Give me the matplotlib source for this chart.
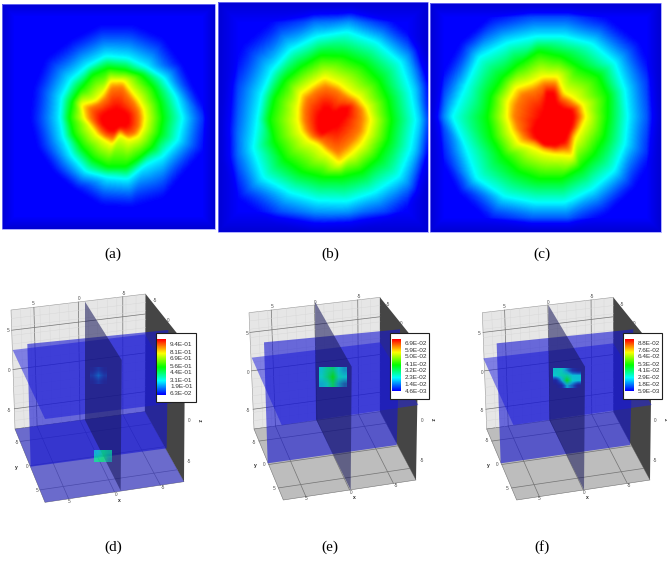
import numpy as np
import matplotlib
matplotlib.use("Agg")
import matplotlib.pyplot as plt
import matplotlib.tri as mtri
from matplotlib.colors import LinearSegmentedColormap, Normalize
from matplotlib.patches import Polygon, Rectangle

W, H = 667, 567
# --- colour scale: level -> colour
cmap = LinearSegmentedColormap.from_list("rb", [(0, (0, 0, .70)), (.2, (0, 0, 1)), (.4, (0, 1, 1)),
                                                (.6, (0, 1, 0)), (.8, (1, 1, 0)), (1, (1, 0, 0))])
norm = Normalize(-.25, 1)
ring_levels = [0, .25, .5, .75, .875, 1]

# --- top row: radius (px) of each level contour, every 20 degrees counter-clockwise from east
a_blue   = [94, 84, 86, 94, 96, 96, 92, 94, 90, 88, 86, 84, 84, 90, 92, 94, 88, 94]
a_cyan   = [66, 63, 62, 59, 61, 63, 60, 60, 59, 57, 57, 59, 62, 60, 62, 55, 60, 65]
a_green  = [46, 46, 48, 50, 49, 51, 50, 47, 48, 48, 47, 46, 48, 50, 50, 46, 46, 46]
a_yellow = [28, 28, 28, 30, 38, 38, 28, 27, 38, 33, 27, 26, 25, 27, 16, 25, 28, 28]
a_orange = [23, 23, 23, 25, 32, 31, 23, 23, 30, 27, 23, 22, 22, 22, 13, 21, 24, 24]
a_red    = [12, 12, 10, 9, 9, 9, 9, 11, 13, 16, 16, 15, 15, 13, 10, 10, 13, 13]

b_blue   = [112, 116, 120, 118, 118, 116, 118, 118, 114, 112, 118, 124, 120, 116, 114, 118, 120, 114]
b_cyan   = [84, 84, 90, 90, 90, 85, 82, 78, 75, 75, 84, 90, 84, 82, 83, 84, 88, 84]
b_green  = [60, 60, 62, 64, 65, 66, 62, 62, 62, 63, 62, 62, 60, 58, 58, 60, 60, 60]
b_yellow = [39, 37, 35, 33, 37, 43, 40, 41, 36, 34, 33, 31, 28, 33, 44, 39, 38, 38]
b_orange = [30, 31, 29, 27, 30, 34, 33, 33, 30, 28, 27, 26, 24, 27, 34, 30, 29, 30]
b_red    = [10, 16, 21, 14, 7, 12, 15, 13, 14, 14, 15, 17, 17, 10, 7, 8, 8, 8]

c_blue   = [112, 114, 118, 116, 114, 114, 118, 118, 118, 120, 118, 120, 122, 116, 116, 114, 112, 112]
c_cyan   = [78, 80, 85, 85, 82, 82, 86, 93, 90, 98, 90, 96, 92, 87, 87, 84, 84, 80]
c_green  = [58, 62, 64, 58, 62, 67, 62, 62, 63, 63, 62, 62, 63, 63, 63, 60, 58, 58]
c_yellow = [36, 35, 30, 28, 41, 41, 39, 45, 45, 43, 41, 41, 35, 36, 38, 45, 33, 33]
c_orange = [31, 30, 25, 23, 34, 34, 31, 36, 36, 36, 34, 33, 29, 31, 34, 37, 29, 29]
c_red    = [24, 23, 15, 15, 25, 25, 12, 8, 8, 8, 14, 22, 26, 30, 30, 29, 25, 24]

top_panels = [
    ((117, 118), (2, 215, 4, 229), 12, [a_blue, a_cyan, a_green, a_yellow, a_orange, a_red]),
    ((332, 120), (218, 428, 2, 232), 20, [b_blue, b_cyan, b_green, b_yellow, b_orange, b_red]),
    ((550, 117), (430, 661, 3, 232), 14, [c_blue, c_cyan, c_green, c_yellow, c_orange, c_red]),
]

# --- bottom row: scene corners, relative to each panel's origin (3x px)
scenes = [
 dict(origin=(0, 280), TL=(33, 90), TR=(437, 42), BR=(435, 395), BL=(45, 447), FR=(552, 605), FL=(135, 667), RT=(555, 190),
      hp=[(38, 210), (435, 163), (552, 365), (135, 417)], yp=[(82, 192), (505, 150), (500, 505), (92, 560)],
      xp=[(255, 65), (365, 240), (362, 632), (255, 420)], floor_blue=True,
      legend=((467, 160, 587, 367), (472, 178, 498, 345), 510, [195, 216, 237, 258, 279, 300, 320, 340]),
      labels=["9.4E-01", "8.1E-01", "6.9E-01", "5.6E-01", "4.4E-01", "3.1E-01", "1.9E-01", "6.3E-02"],
      heat=[((283, 335, 510, 545), [[.28, .36, .34], [.36, .40, .30]], [[.6, .7, .6], [.7, .7, .4]]),
            ((270, 320, 262, 312), [[.10, .13, .10], [.13, .17, .13], [.10, .13, .10]], [[.05, .2, .05], [.2, .45, .2], [.05, .2, .05]])],
      ticks=[(100, 70, "5"), (237, 57, "0"), (372, 40, "-5"), (465, 62, "-5"), (503, 122, "0"), (25, 152, "5"), (28, 273, "0"),
             (28, 393, "-5"), (567, 422, "0"), (567, 545, "-5"), (50, 487, "-5"), (80, 560, "0"), (110, 632, "5"),
             (208, 665, "5"), (348, 645, "0"), (488, 623, "-5")],
      axes=[(598, 420, "z"), (50, 562, "y"), (357, 662, "x")]),
 dict(origin=(230, 280), TL=(57, 98), TR=(450, 52), BR=(450, 395), BL=(72, 447), FR=(558, 600), FL=(160, 660), RT=(565, 195),
      hp=[(65, 233), (450, 187), (565, 375), (155, 435)], yp=[(102, 187), (510, 148), (500, 495), (113, 550)],
      xp=[(255, 65), (365, 260), (362, 630), (258, 418)], floor_blue=False,
      legend=((480, 158, 597, 357), (486, 178, 512, 332), 524, [190, 211, 231, 252, 272, 293, 313, 334]),
      labels=["6.9E-02", "5.9E-02", "5.0E-02", "4.1E-02", "3.2E-02", "2.3E-02", "1.4E-02", "4.6E-03"],
      heat=[((268, 350, 262, 320), [[.28, .36, .40, .28, .26], [.30, .38, .50, .32, .28], [.26, .30, .42, .28, .26]],
             [[.7, .75, .75, .7, .5], [.75, .75, .8, .75, .7], [.6, .7, .75, .5, .25]])],
      ticks=[(125, 80, "5"), (255, 67, "0"), (388, 50, "-5"), (475, 72, "-5"), (512, 130, "0"), (50, 160, "5"), (55, 278, "0"),
             (55, 393, "-5"), (575, 422, "0"), (575, 540, "-5"), (72, 487, "-5"), (102, 552, "0"), (133, 627, "5"),
             (228, 657, "5"), (362, 637, "0"), (497, 617, "-5")],
      axes=[(606, 418, "z"), (75, 555, "y"), (372, 652, "x")]),
 dict(origin=(450, 280), TL=(97, 98), TR=(490, 52), BR=(490, 395), BL=(110, 447), FR=(600, 600), FL=(200, 660), RT=(605, 195),
      hp=[(100, 235), (490, 190), (605, 375), (190, 435)], yp=[(140, 190), (550, 148), (540, 495), (152, 550)],
      xp=[(295, 75), (405, 260), (402, 630), (298, 420)], floor_blue=False,
      legend=((519, 160, 635, 357), (525, 178, 551, 332), 563, [190, 211, 231, 252, 272, 293, 313, 335]),
      labels=["8.8E-02", "7.6E-02", "6.4E-02", "5.3E-02", "4.1E-02", "2.9E-02", "1.8E-02", "5.9E-03"],
      heat=[((308, 392, 265, 325), [[.28, .30, .22, .10, .05], [.28, .32, .34, .26, .26], [.05, .22, .48, .28, .26], [.02, .05, .25, .18, .05]],
             [[.7, .75, .5, .2, .05], [.75, .75, .75, .7, .7], [.15, .6, .8, .75, .7], [.0, .15, .6, .4, .05]])],
      ticks=[(163, 80, "5"), (295, 67, "0"), (425, 50, "-5"), (515, 72, "-5"), (552, 130, "0"), (88, 160, "5"), (95, 278, "0"),
             (95, 393, "-5"), (615, 422, "0"), (615, 540, "-5"), (112, 483, "-5"), (142, 553, "0"), (172, 627, "5"),
             (267, 657, "5"), (402, 637, "0"), (537, 617, "-5")],
      axes=[(645, 418, "z"), (115, 557, "y"), (412, 652, "x")]),
]
captions = [("(a)", 113, 254), ("(b)", 330, 254), ("(c)", 542, 254), ("(d)", 113, 547), ("(e)", 330, 547), ("(f)", 542, 547)]

fig = plt.figure(figsize=(W / 100, H / 100), dpi=100)
ax = fig.add_axes([0, 0, 1, 1])


def smooth(img, passes=2):
    k = np.array([1, 2, 3, 2, 1], float) / 9
    for _ in range(passes):
        img = np.apply_along_axis(lambda m: np.convolve(np.pad(m, 2, mode="edge"), k, mode="valid"), 0, img)
        img = np.apply_along_axis(lambda m: np.convolve(np.pad(m, 2, mode="edge"), k, mode="valid"), 1, img)
    return img


for (cx, cy), (x0, x1, y0, y1), edge, rings in top_panels:
    n = len(rings[0])
    ang = np.deg2rad(np.arange(n) * 360 / n)
    rad = np.array(rings, float)
    px = np.r_[(cx + rad * np.cos(ang)).ravel(), cx]
    py = np.r_[(cy - rad * np.sin(ang)).ravel(), cy]
    pv = np.r_[(np.array(ring_levels)[:, None] * np.ones(n)).ravel(), 1.0]
    tris = []
    for r in range(len(rings) - 1):
        for i in range(n):
            j = (i + 1) % n
            a, b, c, d = r * n + i, r * n + j, (r + 1) * n + j, (r + 1) * n + i
            tris += [(a, b, c), (a, c, d)]
    last = (len(rings) - 1) * n
    tris += [(last + i, last + (i + 1) % n, len(px) - 1) for i in range(n)]
    interp = mtri.LinearTriInterpolator(mtri.Triangulation(px, py, tris), pv)
    gx, gy = np.meshgrid(np.arange(x0, x1 + 1), np.arange(y0, y1 + 1))
    field = smooth(np.ma.filled(interp(gx, gy), 0.0), 2)
    field = np.where(field < .25, .25 * (np.clip(field, 0, .25) / .25) ** 1.25, field)
    border = np.minimum.reduce([gx - x0, x1 - gx, gy - y0, y1 - gy])
    dark = -.14 * np.clip(1 - border / edge, 0, 1)
    field = field + dark * np.clip(1 - field / .2, 0, 1)
    ax.imshow(field, extent=(x0, x1, y1, y0), cmap=cmap, norm=norm, aspect="auto", interpolation="bilinear", zorder=2)
    ax.add_patch(Rectangle((x0, y0), x1 - x0, y1 - y0, fc="none", ec=(.55, .55, 1), lw=.5, zorder=2.1))


def lerp(p, q, t):
    return (p[0] + (q[0] - p[0]) * t, p[1] + (q[1] - p[1]) * t)


def draw_scene(s):
    ox, oy = s["origin"]
    P = lambda p: (ox + p[0] / 3, oy + p[1] / 3)
    TL, TR, BR, BL, FR, FL, RT = [s[k] for k in ("TL", "TR", "BR", "BL", "FR", "FL", "RT")]
    poly = lambda pts, **kw: ax.add_patch(Polygon([P(p) for p in pts], closed=True, **kw))
    poly([TL, TR, BR, BL], fc=(.90, .90, .90), ec=(.6, .6, .6), lw=.4, zorder=3)
    poly([BL, BR, FR, FL], fc=(.74, .74, .74), ec=(.45, .45, .45), lw=.4, zorder=3)
    poly([TR, RT, FR, BR], fc=(.27, .27, .27), ec="none", zorder=3)

    def grid(a, b, c, d, major, minor, z=3.2):
        for t in minor:
            p, q = P(lerp(a, b, t)), P(lerp(d, c, t))
            ax.plot([p[0], q[0]], [p[1], q[1]], color=(.84, .84, .84), lw=.3, zorder=z)
        for t in major:
            p, q = P(lerp(a, b, t)), P(lerp(d, c, t))
            ax.plot([p[0], q[0]], [p[1], q[1]], color=(.45, .45, .45), lw=.5, zorder=z)

    minor = [i / 14 for i in range(1, 14)]
    grid(TL, TR, BR, BL, [.17, .5, .83], minor)
    grid(TL, BL, BR, TR, [.17, .5, .83], minor)
    grid(BL, BR, FR, FL, [.17, .5, .83], [])
    grid(BL, FL, FR, BR, [.17, .5, .83], [])

    if s["floor_blue"]:
        poly([BL, BR, FR, FL], fc=(.16, .16, .85), ec="none", alpha=.55, zorder=3.3)
    poly(s["hp"], fc=(.13, .13, .88), ec="none", alpha=.52, zorder=3.4)
    poly(s["yp"], fc=(.08, .08, .82), ec="none", alpha=.60, zorder=3.5)
    poly(s["xp"], fc=(.08, .08, .34), ec="none", alpha=.55, zorder=3.6)

    for (x0, x1, y0, y1), vals, alpha in s["heat"]:
        (a, b), (c, d) = P((x0, y0)), P((x1, y1))
        ax.imshow(vals, extent=(a, c, d, b), cmap=cmap, norm=norm, aspect="auto",
                  interpolation="bilinear", alpha=np.array(alpha), zorder=3.7)
    for x, y, t in s["ticks"]:
        ax.text(*P((x, y)), t, fontsize=3.4, color=(.3, .3, .3), ha="center", va="center", family="Liberation Sans", zorder=5)
    for x, y, t in s["axes"]:
        ax.text(*P((x, y)), t, fontsize=3.6, color=(.15, .15, .15), ha="center", va="center", family="Liberation Sans",
                fontweight="bold", zorder=5, rotation=-90 if t == "z" else 0)

    (lx0, ly0, lx1, ly1), (bx0, by0, bx1, by1), tx, tys = s["legend"]
    a, b = P((lx0, ly0)), P((lx1, ly1))
    ax.add_patch(Rectangle(a, b[0] - a[0], b[1] - a[1], fc="white", ec=(.12, .12, .12), lw=.8, zorder=6))
    a, b = P((bx0, by0)), P((bx1, by1))
    ax.imshow(np.linspace(1, 0, 64)[:, None], extent=(a[0], b[0], b[1], a[1]), cmap=cmap, norm=norm,
              aspect="auto", zorder=7)
    for lab, ty in zip(s["labels"], tys):
        ax.text(*P((tx, ty)), lab, fontsize=4.6, color=(.2, .2, .2), ha="left", va="center", family="Liberation Sans", zorder=8)


for s in scenes:
    draw_scene(s)

for t, x, y in captions:
    ax.text(x, y, t, fontsize=11, ha="center", va="center", family="Liberation Serif", color="black", zorder=9)

ax.set_xlim(0, W)
ax.set_ylim(H, 0)
ax.axis("off")
fig.savefig("out.png", dpi=100)
